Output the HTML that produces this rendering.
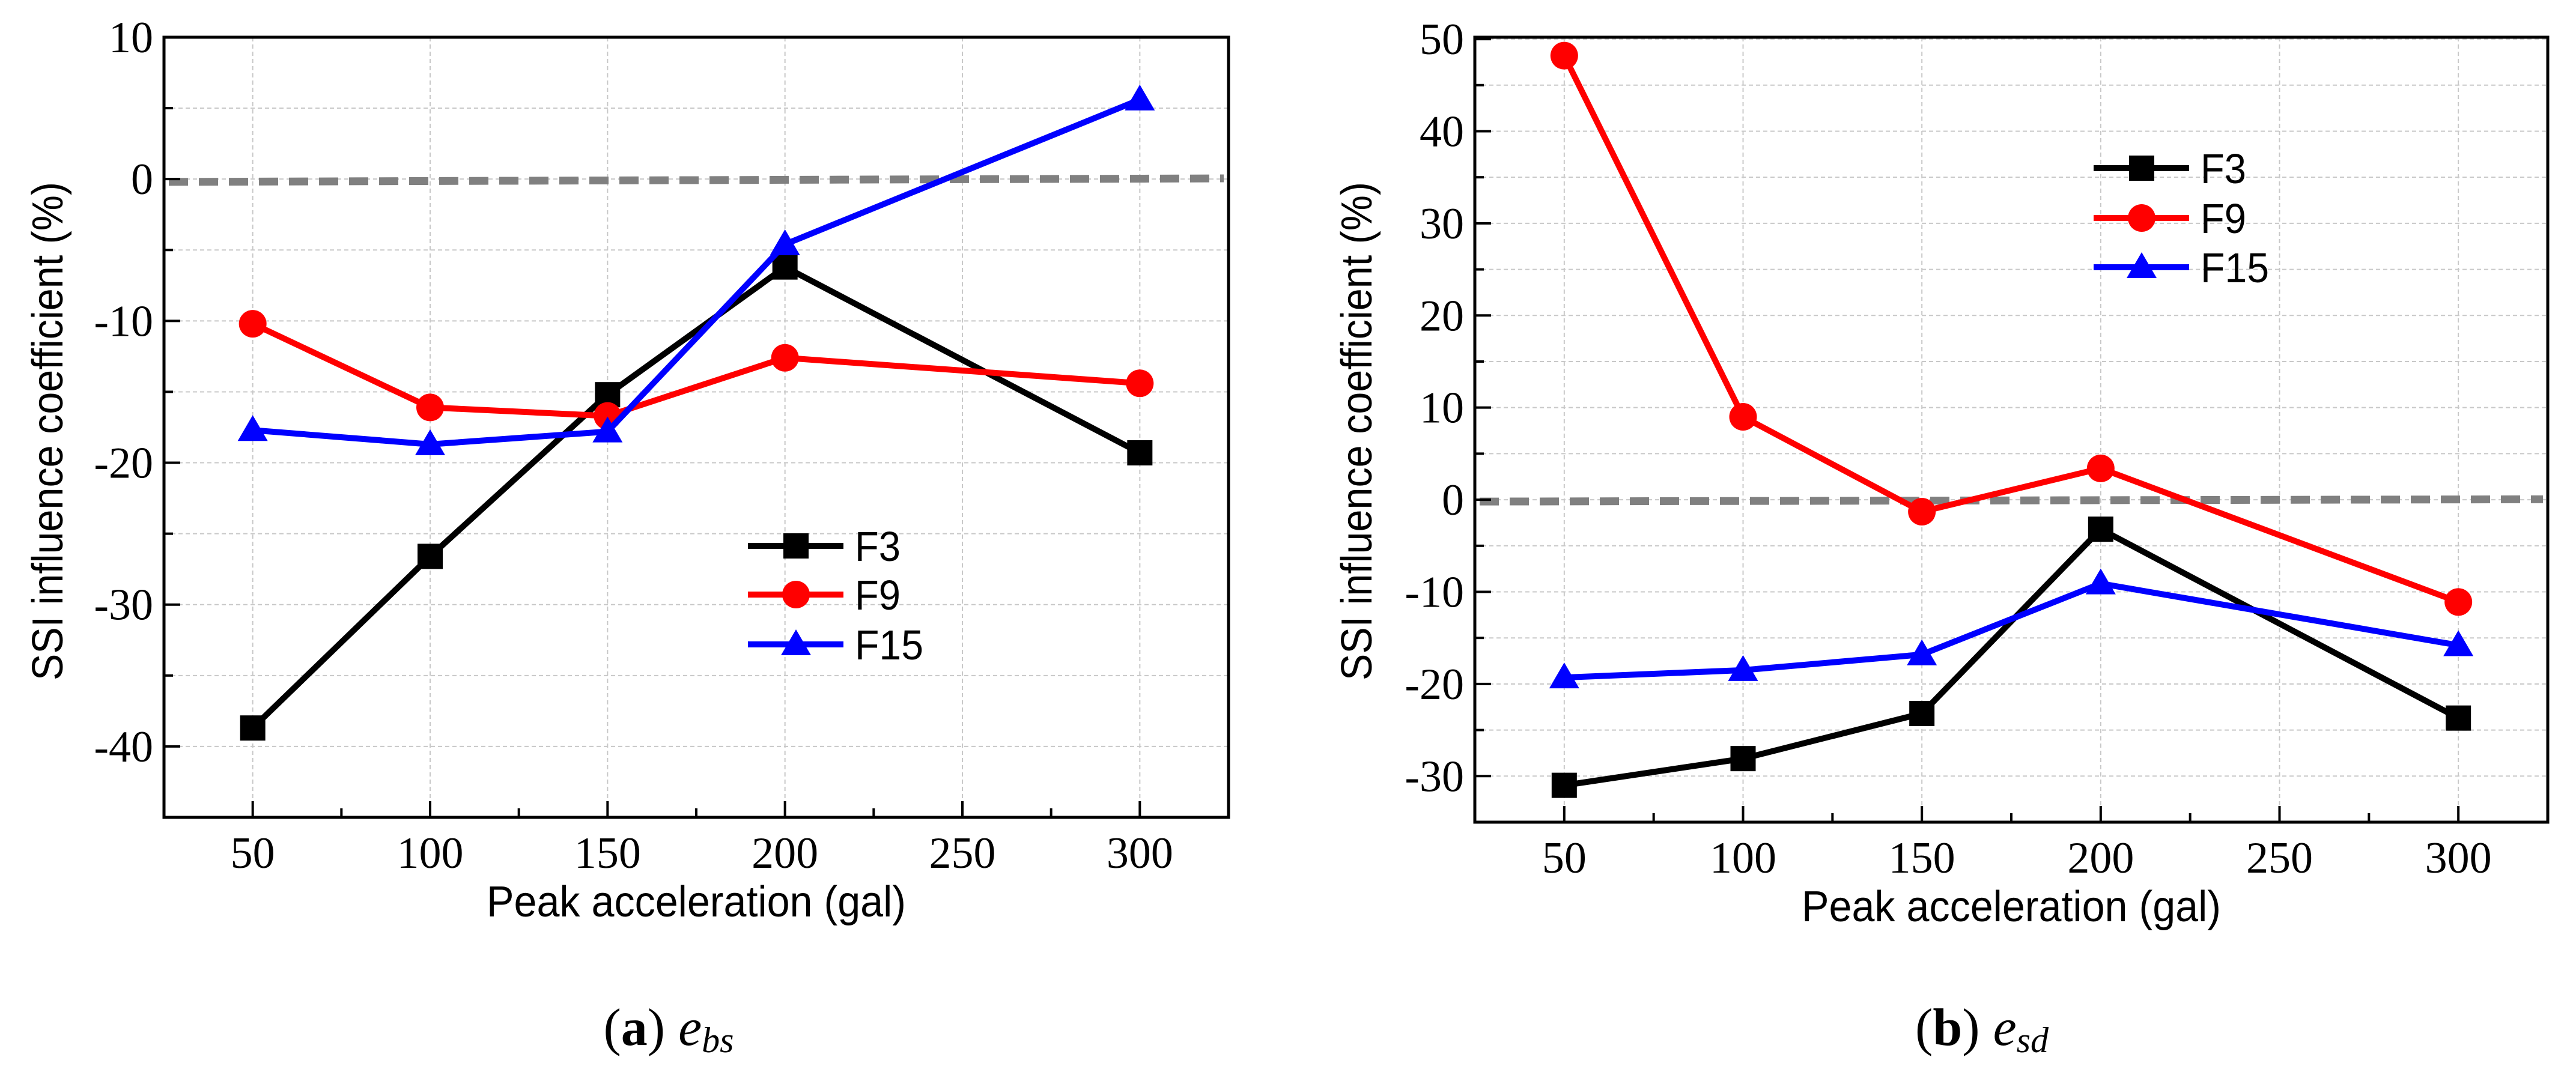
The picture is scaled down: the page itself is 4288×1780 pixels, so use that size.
<!DOCTYPE html>
<html><head><meta charset="utf-8">
<style>
html,body{margin:0;padding:0;background:#fff;}
svg{display:block;}
</style></head>
<body>
<svg id="fig" width="4288" height="1780" viewBox="0 0 4288 1780" xmlns="http://www.w3.org/2000/svg"></svg>
<script>
const categories = [50, 100, 150, 200, 300];
const seriesNames = ["F3", "F9", "F15"];
const aF3 = [-38.7, -26.6, -15.2, -6.2, -19.3];
const aF9 = [-10.2, -16.1, -16.7, -12.6, -14.4];
const aF15 = [-17.7, -18.7, -17.8, -4.6, 5.6];
const bF3 = [-31.0, -28.1, -23.2, -3.2, -23.7];
const bF9 = [48.2, 9.0, -1.3, 3.4, -11.1];
const bF15 = [-19.3, -18.5, -16.8, -9.1, -15.8];
const xTicks = [50, 100, 150, 200, 250, 300];
const aYTicks = [10, 0, -10, -20, -30, -40];
const bYTicks = [50, 40, 30, 20, 10, 0, -10, -20, -30];

const NS = "http://www.w3.org/2000/svg";
const svg = document.getElementById('fig');
function mk(tag, attrs, parent, text) {
  const e = document.createElementNS(NS, tag);
  for (const k in attrs) e.setAttribute(k, attrs[k]);
  if (text !== undefined) e.textContent = text;
  (parent || svg).appendChild(e);
  return e;
}
const colors = ["#000000", "#ff0000", "#0000ff"];

function panel(cfg) {
  const g = mk('g', {});
  
  
  const L = cfg.L, R = cfg.R, T = cfg.T, B = cfg.B;
  const xs = v => L + (v - 25) / 300 * (R - L);
  const ys = v => T + (cfg.ymax - v) / (cfg.ymax - cfg.ymin) * (B - T);
  const grid = mk('g', {}, g);
  
  
  for (let v = Math.ceil(cfg.ymin / 5) * 5; v <= cfg.ymax; v += 5) {
    const y = ys(v);
    if (y <= T + 3 || y >= B - 3) continue;
    mk('line', {x1: L, x2: R, y1: y, y2: y, stroke: '#c8c8c8', 'stroke-width': 2, 'stroke-dasharray': '7 5'}, grid);
  }
  xTicks.forEach(v => {
    const x = xs(v);
    mk('line', {x1: x, x2: x, y1: T, y2: B, stroke: '#c8c8c8', 'stroke-width': 2, 'stroke-dasharray': '7 5'}, grid);
  });
  const z = mk('line', {x1: L + 8, x2: R - 8, y1: ys(-0.2), y2: ys(0.05), stroke: '#808080', 'stroke-width': 13, 'stroke-dasharray': '32 18'}, g);
  
  
  const ticks = mk('g', {stroke: '#000', 'stroke-width': 4}, g);
  
  
  for (let v = 25; v <= 325; v += 25) {
    const x = xs(v);
    const len = (v % 50 === 0) ? 27 : 15;
    mk('line', {x1: x, x2: x, y1: B, y2: B - len}, ticks);
  }
  for (let v = Math.ceil(cfg.ymin / 5) * 5; v <= cfg.ymax; v += 5) {
    const y = ys(v);
    const len = (v % 10 === 0) ? 27 : 15;
    mk('line', {x1: L, x2: L + len, y1: y, y2: y}, ticks);
  }
  xTicks.forEach(v => {
    const t = mk('text', {x: xs(v), y: B + 84, 'text-anchor': 'middle', 'font-family': '"Liberation Serif", serif', 'font-size': 74}, g, String(v));
    
    
  });
  cfg.yTicks.forEach(v => {
    const t = mk('text', {x: L - 18, y: ys(v) + 25, 'text-anchor': 'end', 'font-family': '"Liberation Serif", serif', 'font-size': 74}, g, String(v));
    
    
  });
  cfg.series.forEach((data, si) => {
    const sg = mk('g', {}, g);
    
    
    const pts = data.map((v, i) => xs(categories[i]) + ',' + ys(v)).join(' ');
    mk('polyline', {points: pts, fill: 'none', stroke: colors[si], 'stroke-width': 10, 'stroke-linejoin': 'round'}, sg);
    data.forEach((v, i) => {
      const m = marker(si, xs(categories[i]), ys(v), sg);
      
      
    });
  });
  const fr = mk('rect', {x: L, y: T, width: R - L, height: B - T, fill: 'none', stroke: '#000', 'stroke-width': 5}, g);
  
  
  const xt = mk('text', {x: (L + R) / 2 + cfg.xtOff, y: B + 165, 'text-anchor': 'middle', 'font-family': '"Liberation Sans", sans-serif', 'font-size': 72, textLength: 698, lengthAdjust: 'spacingAndGlyphs'}, g, 'Peak acceleration (gal)');
  
  
  const yt = mk('text', {x: 0, y: 0, 'text-anchor': 'middle', 'font-family': '"Liberation Sans", sans-serif', 'font-size': 72, textLength: 830, lengthAdjust: 'spacingAndGlyphs', transform: 'translate(' + cfg.ytX + ',' + cfg.ytY + ') rotate(-90)'}, g, 'SSI influence coefficient (%)');
  
  
  const lg = mk('g', {}, g);
  
  
  seriesNames.forEach((n, si) => {
    const eg = mk('g', {}, lg);
    
    
    const y = cfg.legY[si];
    mk('line', {x1: cfg.legX, x2: cfg.legX + 159, y1: y, y2: y, stroke: colors[si], 'stroke-width': 10}, eg);
    marker(si, cfg.legX + 80, y, eg);
    mk('text', {x: cfg.legX + 178, y: y + 25, 'font-family': '"Liberation Sans", sans-serif', 'font-size': 70, textLength: n.length === 2 ? 76 : 114, lengthAdjust: 'spacingAndGlyphs'}, eg, n);
  });
  const cap = mk('text', {x: cfg.capX, y: 1740, 'text-anchor': 'middle', 'font-family': '"Liberation Serif", serif', 'font-size': 88}, g);
  
  
  mk('tspan', {}, cap, '(');
  mk('tspan', {'font-weight': 'bold'}, cap, cfg.id === 'a' ? 'a' : 'b');
  mk('tspan', {}, cap, ') ');
  mk('tspan', {'font-style': 'italic'}, cap, 'e');
  mk('tspan', {'font-style': 'italic', 'font-size': 60, dy: 12}, cap, cfg.sub);
}

function marker(si, x, y, parent) {
  if (si === 0) return mk('rect', {x: x - 21, y: y - 21, width: 42, height: 42, fill: '#000'}, parent);
  if (si === 1) return mk('circle', {cx: x, cy: y, r: 23, fill: '#ff0000'}, parent);
  return mk('polygon', {points: (x) + ',' + (y - 25) + ' ' + (x + 25) + ',' + (y + 18) + ' ' + (x - 25) + ',' + (y + 18), fill: '#0000ff'}, parent);
}

panel({id: 'a', L: 273, R: 2045, T: 62, B: 1361, ymin: -45, ymax: 10, yTicks: aYTicks,
  series: [aF3, aF9, aF15], xtOff: 0, ytX: 104, ytY: 718, legX: 1245, legY: [909, 990, 1073], capX: 1113, sub: 'bs'});
panel({id: 'b', L: 2455, R: 4241, T: 62, B: 1369, ymin: -35, ymax: 50.2, yTicks: bYTicks,
  series: [bF3, bF9, bF15], xtOff: 0, ytX: 2283, ytY: 718, legX: 3485, legY: [280, 363, 445], capX: 3299, sub: 'sd'});
</script>
</body></html>
